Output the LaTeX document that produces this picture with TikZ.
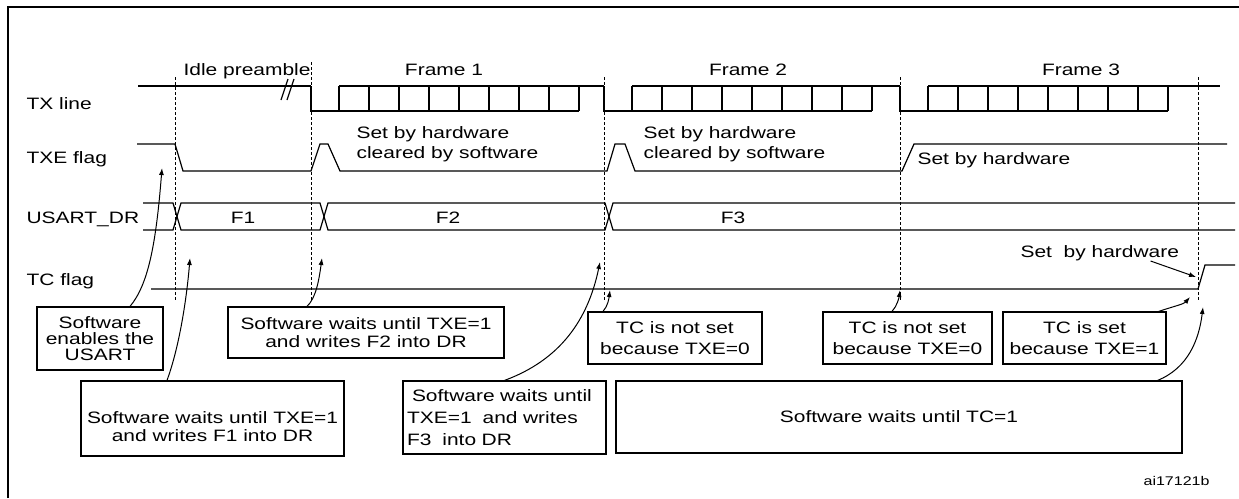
\documentclass[tikz,border=0pt]{standalone}
\usepackage{fontspec}
\setmainfont{Liberation Sans}[FakeStretch=1.27]
\usepackage{tikz}
\usetikzlibrary{arrows.meta}

\begin{document}
\begin{tikzpicture}[x=1pt,y=-1pt,line width=1.2pt,
  txt/.style={inner sep=0pt,font=\fontsize{16.5}{18}\selectfont},
  box/.style={txt,draw,align=center},
  guide/.style={line width=1pt,dash pattern=on 3pt off 2pt},
  ptr/.style={line width=1pt,-{Latex[length=7pt,width=5pt]}}]
\useasboundingbox (0,0) rectangle (1239,498);
\draw[line width=1.8pt] (8,498) -- (8,7) -- (1239,7);

\node[txt,anchor=base west] (txlbl) at (26,109) {TX line};
\node[txt,anchor=base west] (txelbl) at (26,163) {TXE flag};
\node[txt,anchor=base west] (drlbl) at (26,223) {USART\_DR};
\node[txt,anchor=base west] (tclbl) at (26,285) {TC flag};

\node[txt,anchor=base west] (idle) at (183,75) {Idle preamble};
\node[txt,anchor=base] (fr1) at (444,75) {Frame 1};
\node[txt,anchor=base] (fr2) at (748,75) {Frame 2};
\node[txt,anchor=base] (fr3) at (1081,75) {Frame 3};

\foreach \x in {175,604,900,1198} \draw[guide] (\x,77) -- (\x,300);
\draw[guide] (311,62) -- (311,300);

\draw (138,86) -- (311,86);
\foreach \d/\e in {311/604,604/900,900/1220}{
  \draw (\d,86) -- (\d,111) -- (\d+268,111);
  \draw (\d+28,86) -- (\e,86);
  \foreach \i in {0,...,8} \draw (\d+28+30*\i,86) -- (\d+28+30*\i,111);
}
\draw (281,100) -- (288,79);
\draw (287,100) -- (294,79);

\draw (137,144) -- (175,144) -- (183,171) -- (311,171) -- (320,144) -- (328,144) -- (340,171)
  -- (607,171) -- (615,144) -- (625,144) -- (635,171) -- (902,171) -- (914,144) -- (1227,144);
\node[txt,align=left,anchor=north west,font=\fontsize{16.5}{20}\selectfont] (hw1) at (356,126) {Set by hardware\\cleared by software};
\node[txt,align=left,anchor=north west,font=\fontsize{16.5}{20}\selectfont] (hw2) at (643,126) {Set by hardware\\cleared by software};
\node[txt,anchor=base west] (hw3) at (917,164) {Set by hardware};

\draw (143,203) -- (173,203) -- (181,230) -- (320,230) -- (328,203) -- (605,203) -- (613,230) -- (1235,230);
\draw (143,230) -- (173,230) -- (181,203) -- (320,203) -- (328,230) -- (605,230) -- (613,203) -- (1235,203);
\node[txt,anchor=base] (dr1) at (243,223) {F1};
\node[txt,anchor=base] (dr2) at (448,223) {F2};
\node[txt,anchor=base] (dr3) at (733,223) {F3};

\draw (151,289) -- (1198,289) -- (1205,265) -- (1235,265);
\node[txt,anchor=base west] (tchw) at (1020,257) {Set~ by hardware};

\node[box,minimum width=126,minimum height=63,font=\fontsize{16.5}{16}\selectfont] (swen) at (100,338.5) {Software\\enables the\\USART};
\node[box,minimum width=263,minimum height=75] (swf1) at (212.5,418.5) {\rule{0pt}{28pt}Software waits until TXE=1\\and writes F1 into DR};
\node[box,minimum width=276,minimum height=51] (swf2) at (366,332.5) {Software waits until TXE=1\\and writes F2 into DR};
\node[box,align=left,text width=195,inner xsep=4pt,minimum height=73,font=\fontsize{16.5}{22}\selectfont] (swf3) at (504.5,417.5) {\hspace{5pt}Software waits until\\TXE=1~ and writes\\F3~ into DR};
\node[box,minimum width=174,minimum height=52,font=\fontsize{16.5}{21}\selectfont] (tcno1) at (675,338) {TC is not set\\because TXE=0};
\node[box,minimum width=169,minimum height=52,font=\fontsize{16.5}{21}\selectfont] (tcno2) at (907.5,338) {TC is not set\\because TXE=0};
\node[box,minimum width=163,minimum height=52,font=\fontsize{16.5}{21}\selectfont] (tcset) at (1084.5,338) {TC is set\\because TXE=1};
\node[box,minimum width=566,minimum height=72] (swtc) at (899,417) {Software waits until TC=1};
\node[inner sep=0pt,anchor=base west,font=\fontsize{12.6}{14}\selectfont] (figid) at (1143,485) {ai17121b};

\coordinate (tipen) at (162,168);
\coordinate (tipf1) at (190,258);
\coordinate (tipf2) at (322,258);
\coordinate (tipf3) at (600,262);
\coordinate (tipno1) at (610,290);
\coordinate (tipno2) at (900,290);
\coordinate (tipset) at (1190,297);
\coordinate (tiptc) at (1203,307);
\coordinate (tiphw) at (1196,277);

\draw[ptr] ([xshift=30pt]swen.north) .. controls (148,285) and (156,245) .. (tipen);
\draw[ptr] ([xshift=-45.5pt]swf1.north) .. controls (180,345) and (187,295) .. (tipf1);
\draw[ptr] ([xshift=-59pt]swf2.north) .. controls (316,298) and (319,280) .. (tipf2);
\draw[ptr] (swf3.north) .. controls (560,360) and (588,320) .. (tipf3);
\draw[ptr] ([xshift=-72pt]tcno1.north) .. controls (608,306) and (609,298) .. (tipno1);
\draw[ptr] ([xshift=-15.5pt]tcno2.north) .. controls (897,306) and (899,298) .. (tipno2);
\draw[ptr] ([xshift=-8pt]tcset.north east) .. controls (1175,306) and (1184,304) .. (tipset);
\draw[ptr] ([xshift=-25pt]swtc.north east) .. controls (1188,368) and (1199,340) .. (tiptc);
\draw[ptr] ([xshift=-29pt]tchw.south east) -- (tiphw);
\end{tikzpicture}
\end{document}
